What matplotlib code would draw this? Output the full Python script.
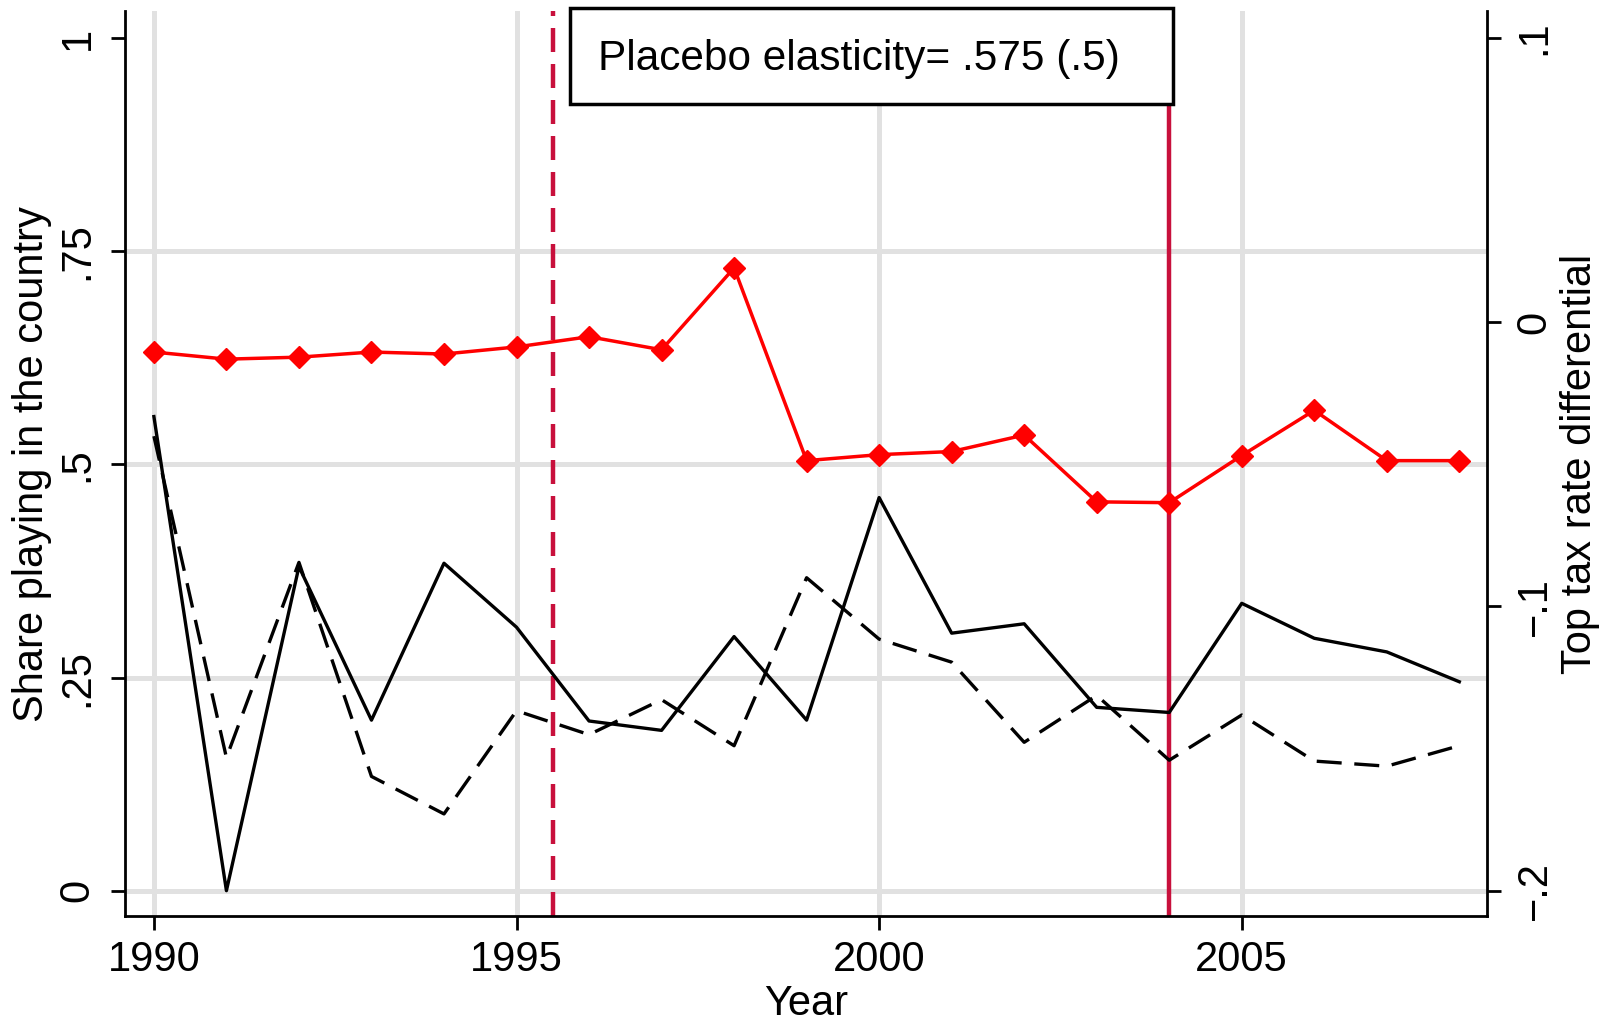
import numpy as np
import matplotlib
matplotlib.use('Agg')
import matplotlib.pyplot as plt
from matplotlib.patches import Rectangle

plt.rcParams['font.family'] = ['Liberation Sans', 'DejaVu Sans']

# data
years = np.arange(1990, 2009)
share_solid = [0.556, 0.0, 0.380, 0.200, 0.384, 0.309, 0.199, 0.188, 0.298, 0.200,
               0.461, 0.302, 0.313, 0.215, 0.209, 0.337, 0.296, 0.280, 0.245]
share_dash = [0.533, 0.156, 0.385, 0.134, 0.090, 0.211, 0.183, 0.224, 0.170, 0.367,
              0.295, 0.268, 0.174, 0.229, 0.153, 0.206, 0.152, 0.146, 0.170]
tax_diff = [-0.0105, -0.0130, -0.0123, -0.0105, -0.0112, -0.0087, -0.0051, -0.0097,
            0.0191, -0.0487, -0.0466, -0.0455, -0.0397, -0.0632, -0.0635, -0.0469,
            -0.0310, -0.0487, -0.0487]
placebo_year = 1995.5
reform_year = 2004

xticks = [1990, 1995, 2000, 2005]
left_ticks = [0, 0.25, 0.5, 0.75, 1]
left_labels = ['0', '.25', '.5', '.75', '1']
right_ticks = [-0.2, -0.1, 0, 0.1]
right_labels = ['\u2212.2', '\u2212.1', '0', '.1']
box_text = 'Placebo elasticity= .575 (.5)'

red = '#ff0000'
cranberry = '#c8103c'
grid_c = '#e1e1e1'
fs = 30

fig = plt.figure(figsize=(16.09, 10.25), dpi=100)
ax = fig.add_axes([0.0778, 0.106, 0.8463, 0.883])
ax2 = ax.twinx()

ax.set_xlim(1989.604, 2008.38)
ylo, yhi = -0.0301, 1.0313
ax.set_ylim(ylo, yhi)
ax2.set_ylim(-0.2 + 0.3 * ylo, -0.2 + 0.3 * yhi)

# grid
for x in xticks:
    ax.axvline(x, color=grid_c, lw=3.6, zorder=0)
for y in left_ticks[:-1]:
    ax.axhline(y, color=grid_c, lw=3.6, zorder=0)

ax.plot(years, share_solid, color='black', lw=2.4, zorder=3)
ax.plot(years, share_dash, color='black', lw=2.4, dashes=(7.5, 3.8), zorder=3)
ax.axvline(placebo_year, color=cranberry, lw=3.2, dashes=(5.4, 2.7), zorder=2)
ax.axvline(reform_year, color=cranberry, lw=3.2, zorder=2)

ax2.plot(years, tax_diff, color=red, lw=2.5, marker='D', markersize=11, zorder=3)

ax.set_xticks(xticks)
ax.set_xticklabels([str(x) for x in xticks], fontsize=fs)
ax.set_yticks(left_ticks)
ax.set_yticklabels(left_labels, fontsize=fs, rotation=90, va='center')
ax2.set_yticks(right_ticks)
ax2.set_yticklabels(right_labels, fontsize=fs, rotation=90, va='center')

for a in (ax, ax2):
    for s in a.spines.values():
        s.set_linewidth(2.0)
    a.spines['top'].set_visible(False)
    a.tick_params(width=2.0, length=10)
ax.tick_params(axis='x', pad=7)
ax.tick_params(axis='y', pad=10)
ax2.tick_params(axis='y', pad=10)
ax.spines['right'].set_visible(False)
ax2.spines['left'].set_visible(False)
ax2.spines['bottom'].set_visible(False)

ax.set_xlabel('Year', fontsize=fs, labelpad=3)
ax.set_ylabel('Share playing in the country', fontsize=fs, labelpad=4)
ax2.set_ylabel('Top tax rate differential', fontsize=fs, rotation=90, labelpad=4)

# placebo box
rect = Rectangle((0.3263, 0.898), 0.4431, 0.1056, transform=ax.transAxes,
                 facecolor='white', edgecolor='black', lw=2.5, clip_on=False, zorder=10)
ax2.add_patch(rect)
ax2.text(0.347, 0.947, box_text, transform=ax.transAxes, fontsize=30.5,
         ha='left', va='center', zorder=11)

fig.savefig('out.png', dpi=100)
